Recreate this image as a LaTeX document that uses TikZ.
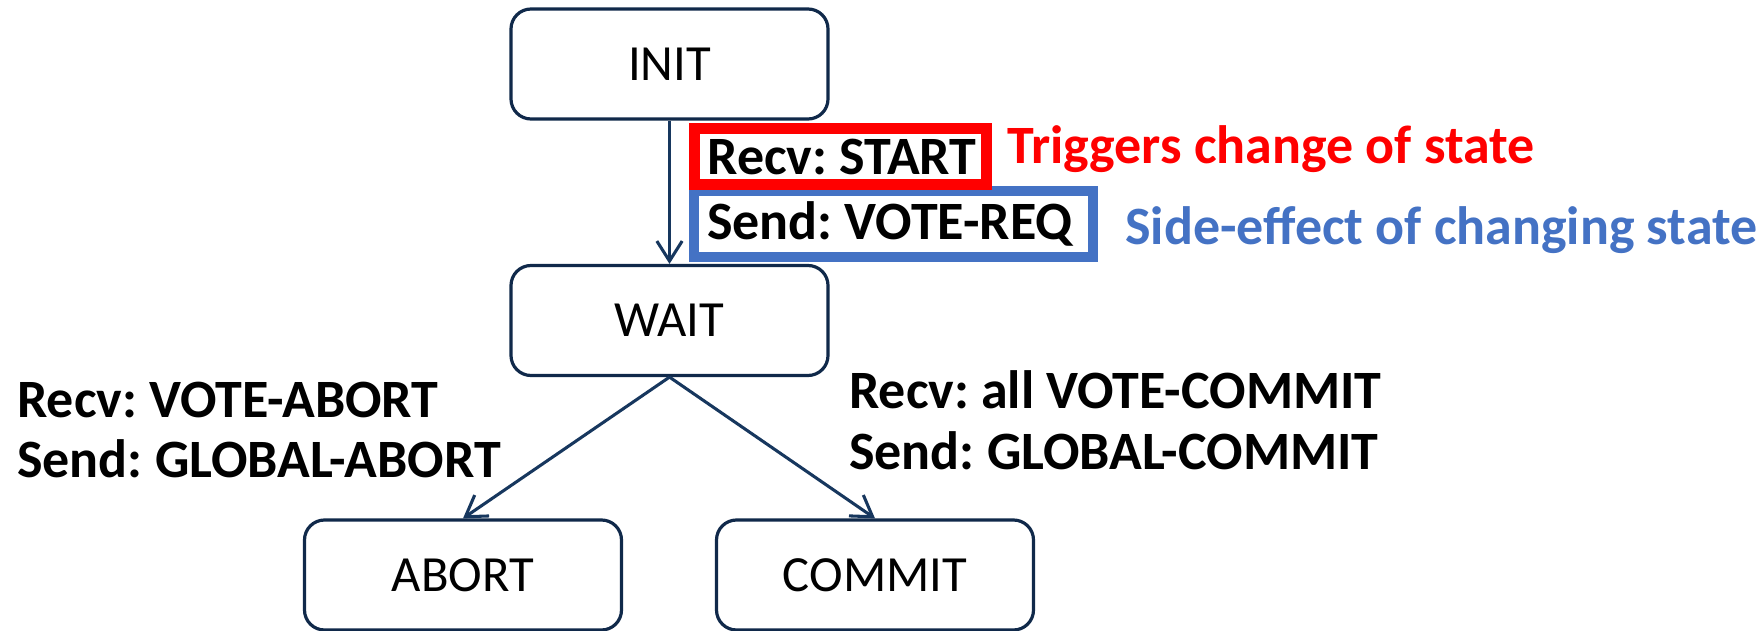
\documentclass[tikz,border=0pt]{standalone}
\usepackage{fontspec}
\setmainfont{Carlito}
\usetikzlibrary{arrows.meta}
\definecolor{navy}{HTML}{10294A}
\definecolor{linkblue}{HTML}{17375E}
\definecolor{sideblue}{HTML}{4472C4}
\definecolor{trigred}{HTML}{FF0000}
\tikzset{
  state/.style={draw=navy, line width=2.4pt, rounded corners=15pt, fill=white,
    minimum width=317*0.75pt, minimum height=110*0.75pt, inner sep=0pt,
    font=\fontsize{38}{44}\selectfont},
  trans/.style={draw=linkblue, line width=2.3pt, -{Straight Barb[length=15pt,width=19pt,line width=2.3pt]}},
  lbl/.style={font=\fontsize{40.5}{45.5}\bfseries\selectfont, align=flush left, inner sep=0pt, anchor=west},
  tagbox/.style={inner xsep=0pt, inner ysep=0pt, align=flush left,
    font=\fontsize{40.5}{45.5}\bfseries\selectfont},
}
\begin{document}
\frenchspacing
\begin{tikzpicture}[x=0.75pt,y=-0.75pt]
\useasboundingbox (0,0) rectangle (1760,631);

% states
\node[state] (init)   at (669.5,64)    {INIT};
\node[state] (wait)   at (669.5,320.5) {WAIT};
\node[state] (abort)  at (463,575)     {ABORT};
\node[state] (commit) at (875,575)     {COMMIT};

% transitions
\draw[trans] (init.south) -- (wait.north);
\draw[trans] (wait.south) -- (abort.north);
\draw[trans] (wait.south) -- (commit.north);

% INIT -> WAIT annotation: trigger and side effect
\node[tagbox, draw=sideblue, line width=7.5pt, minimum width=399*0.75pt, minimum height=66*0.75pt,
      text width=373*0.75pt] (send) at (893.5,224) {\mbox{Send: VOTE-REQ}};
\node[tagbox, draw=trigred, line width=8.25pt, minimum width=292*0.75pt, minimum height=56*0.75pt,
      text width=266*0.75pt] (recv) at (840.5,156.5) {\mbox{Recv: START}};
\node[lbl, text=trigred]  (trig) at (1007,149) {Triggers change of state};
\node[lbl, text=sideblue] (side) at (1125,230) {Side-effect of changing state};

% WAIT -> ABORT / COMMIT annotations
\node[lbl] (abl) at (17,430) {Recv: VOTE-ABORT\\Send: GLOBAL-ABORT};
\node[lbl] (cml) at (849,420) {Recv: all VOTE-COMMIT\\Send: GLOBAL-COMMIT};
\end{tikzpicture}
\end{document}
